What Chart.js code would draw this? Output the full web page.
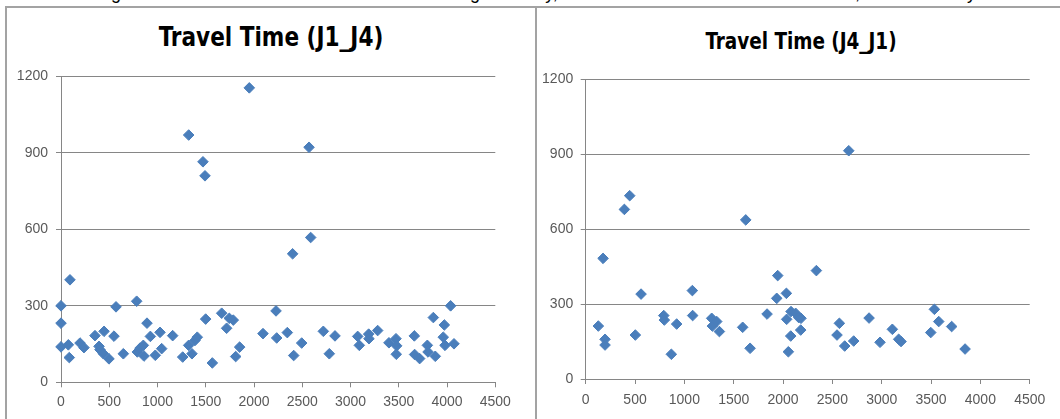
<!DOCTYPE html>
<html><head><meta charset="utf-8">
<script src="https://cdn.jsdelivr.net/npm/chart.js@4.4.1/dist/chart.umd.min.js"></script>
<style>
html,body{margin:0;padding:0;background:#fff;width:1060px;height:419px;overflow:hidden;position:relative;font-family:"Liberation Sans",Arial,sans-serif}
.line{position:absolute;background:#a3a3a3}
.title{position:absolute;font-family:"Liberation Sans Narrow","DejaVu Sans Condensed",sans-serif;font-weight:bold;color:#000;white-space:nowrap;line-height:1}
#caption{position:absolute;left:536px;top:-16px;transform:translateX(-50%);font-size:18px;line-height:18px;white-space:nowrap;color:#000}
canvas{position:absolute}
</style></head><body>
<div id="caption">Figure 7: Travel time of matched vehicles through the day, between J1 and J4 in both directions, on a weekday</div>
<div class="line" style="left:5px;top:6px;width:1055px;height:2px"></div>
<div class="line" style="left:5px;top:6px;width:2px;height:413px"></div>
<div class="line" style="left:535px;top:6px;width:2px;height:413px"></div>
<div class="title" id="t1" style="left:271px;top:23px;font-size:27px;transform:translateX(-50%) scaleX(0.89)">Travel Time (J1_J4)</div>
<div class="title" id="t2" style="left:801px;top:30px;font-size:23.5px;transform:translateX(-50%) scaleX(0.87)">Travel Time (J4_J1)</div>
<canvas id="c1" width="530" height="359" style="left:0;top:60px"></canvas>
<canvas id="c2" width="524" height="359" style="left:536px;top:60px"></canvas>
<script>
const xTicks = [0,500,1000,1500,2000,2500,3000,3500,4000,4500];
const yTicks = [0,300,600,900,1200];

const j14X = [0,0,0,76,86,93,197,238,352,394,404,446,439,497,549,570,646,784,791,819,853,860,891,926,977,1026,1043,1157,1261,1323,1323,1357,1388,1412,1471,1492,1499,1568,1665,1716,1744,1785,1810,1851,1951,2093,2228,2235,2345,2400,2411,2494,2570,2587,2718,2780,2839,3074,3091,3188,3191,3281,3398,3471,3478,3474,3661,3664,3716,3796,3803,3858,3878,3972,3961,3979,4037,4072];
const j14Y = [300,232,139,147,97,402,154,136,183,141,128,200,112,92,181,296,112,318,119,134,145,103,232,180,106,196,132,183,99,970,145,112,164,177,865,810,248,76,271,212,251,244,101,138,1155,191,280,174,195,504,105,154,922,568,200,112,182,180,145,189,171,203,155,171,143,110,182,109,93,145,119,254,102,225,177,145,300,151];

const j41X = [128,176,196,196,392,446,503,561,791,797,868,922,1081,1084,1277,1284,1328,1355,1591,1622,1666,1838,1936,1946,2034,2037,2054,2078,2081,2128,2159,2179,2182,2338,2547,2571,2625,2666,2716,2872,2983,3108,3172,3196,3497,3534,3578,3709,3845];
const j41Y = [212,483,159,136,679,734,176,340,254,236,99,220,354,254,243,212,230,190,207,637,123,260,323,414,343,239,109,172,270,263,246,196,243,434,176,223,132,914,152,244,147,199,159,150,186,279,230,210,120];

const GRID = '#868686';
const TICKFONT = {family:'"Liberation Sans", Arial, sans-serif', size:14};

function makeChart(id, xs, ys, cfg){
  const pts = xs.map((x,i)=>({x:x, y:ys[i]}));
  return new Chart(document.getElementById(id), {
    type:'scatter',
    data:{datasets:[{data:pts, clip:false, pointStyle:'rectRot', pointRadius:5.3, pointHoverRadius:5.3,
      backgroundColor:'#4a7ebb', borderColor:'#4a7ebb', borderWidth:1}]},
    options:{
      responsive:false, animation:false, devicePixelRatio:1,
      layout:{padding:{left:0, right:cfg.padRight, top:cfg.padTop, bottom:0}},
      plugins:{legend:{display:false}, tooltip:{enabled:false}, title:{display:false}},
      scales:{
        x:{type:'linear', min:xTicks[0], max:xTicks[xTicks.length-1],
          afterBuildTicks:s=>{s.ticks = xTicks.map(v=>({value:v}));},
          afterFit:s=>{s.height = cfg.xH;},
          grid:{drawOnChartArea:false, drawTicks:true, tickLength:5, color:GRID},
          border:{color:GRID, width:1},
          ticks:{padding:cfg.xPad, color:'#595959', font:TICKFONT, maxRotation:0, autoSkip:false, callback:v=>String(v)}},
        y:{type:'linear', min:yTicks[0], max:yTicks[yTicks.length-1],
          afterBuildTicks:s=>{s.ticks = yTicks.map(v=>({value:v}));},
          afterFit:s=>{s.width = cfg.yW;},
          grid:{drawTicks:true, tickLength:5, color:GRID},
          border:{color:GRID, width:1},
          ticks:{padding:cfg.yPad, color:'#595959', font:TICKFONT, autoSkip:false, callback:v=>String(v)}}
      }
    }
  });
}

makeChart('c1', j14X, j14Y, {padRight:34.7, padTop:12.7, yW:61, xH:36.7, xPad:6, yPad:8});
makeChart('c2', j41X, j41Y, {padRight:30.3, padTop:19.3, yW:49.7, xH:40, xPad:7.5, yPad:7.5});
</script>
</body></html>
